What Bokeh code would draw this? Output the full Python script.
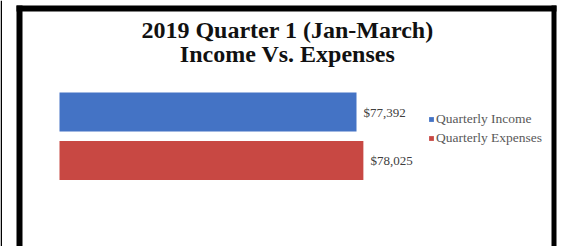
from bokeh.plotting import figure
from bokeh.models import Range1d, Label, LabelSet, ColumnDataSource, BoxAnnotation
from bokeh.core.properties import value
from bokeh.embed import file_html
from bokeh.resources import INLINE

# ---- data ----
title_lines = ["2019 Quarter 1 (Jan-March)", "Income Vs. Expenses"]
series = ["Quarterly Income", "Quarterly Expenses"]
values = [77392, 78025]
value_labels = ["$77,392", "$78,025"]
colors = ["#4473C5", "#C84843"]
axis_min = 50000

# ---- layout ----
W, H = 561, 246
y_pos = [len(series) - 1 - i for i in range(len(series))]

src = ColumnDataSource(dict(
    series=series, values=values, labels=value_labels, color=colors,
    y=y_pos, left=[axis_min] * len(values),
))

p = figure(width=W, height=H, output_backend="svg", toolbar_location=None,
           x_range=Range1d(44559, 96297), y_range=Range1d(-1.773, 3.299),
           x_axis_location=None, y_axis_location=None,
           min_border_left=0, min_border_right=0, min_border_top=0, min_border_bottom=0)
p.title.visible = False
p.grid.visible = False
p.outline_line_color = None
p.background_fill_color = "white"
p.border_fill_color = "white"

p.hbar(y="y", left="left", right="values", height=0.8, color="color",
       legend_field="series", source=src, line_color=None)

p.add_layout(LabelSet(x="values", y="y", text="labels", source=src,
                      x_offset=7, text_baseline="middle",
                      text_font=value("Liberation Serif"), text_font_size="13px",
                      text_color="#404040"))

# title
for txt, yy in zip(title_lines, [217, 193]):
    p.add_layout(Label(x=287, y=yy, x_units="screen", y_units="screen", text=txt,
                       text_align="center", text_baseline="alphabetic",
                       text_font="Liberation Serif", text_font_style="bold",
                       text_font_size="24px", text_color="#111111"))

# legend
lg = p.legend[0]
lg.location = (428, 98.5)
lg.glyph_width = 6
lg.glyph_height = 6
lg.label_standoff = 2
lg.padding = 0
lg.spacing = 0
lg.margin = 0
lg.label_height = 19
lg.border_line_color = None
lg.background_fill_alpha = 0
lg.label_text_font = "Liberation Serif"
lg.label_text_font_size = "13.5px"
lg.label_text_color = "#595959"

# frame border (black box)
def box(l, r, b, t):
    return BoxAnnotation(left=l, right=r, bottom=b, top=t,
                         left_units="screen", right_units="screen",
                         bottom_units="screen", top_units="screen",
                         fill_color="black", fill_alpha=1.0, line_color=None)

p.add_layout(box(0, 1.5, 0, H))
p.add_layout(box(16, 22, 0, H - 5))
p.add_layout(box(16, 556, H - 11, H - 5))
p.add_layout(box(551, 556, 0, H - 5))

open("out.html", "w").write(file_html(p, INLINE))
